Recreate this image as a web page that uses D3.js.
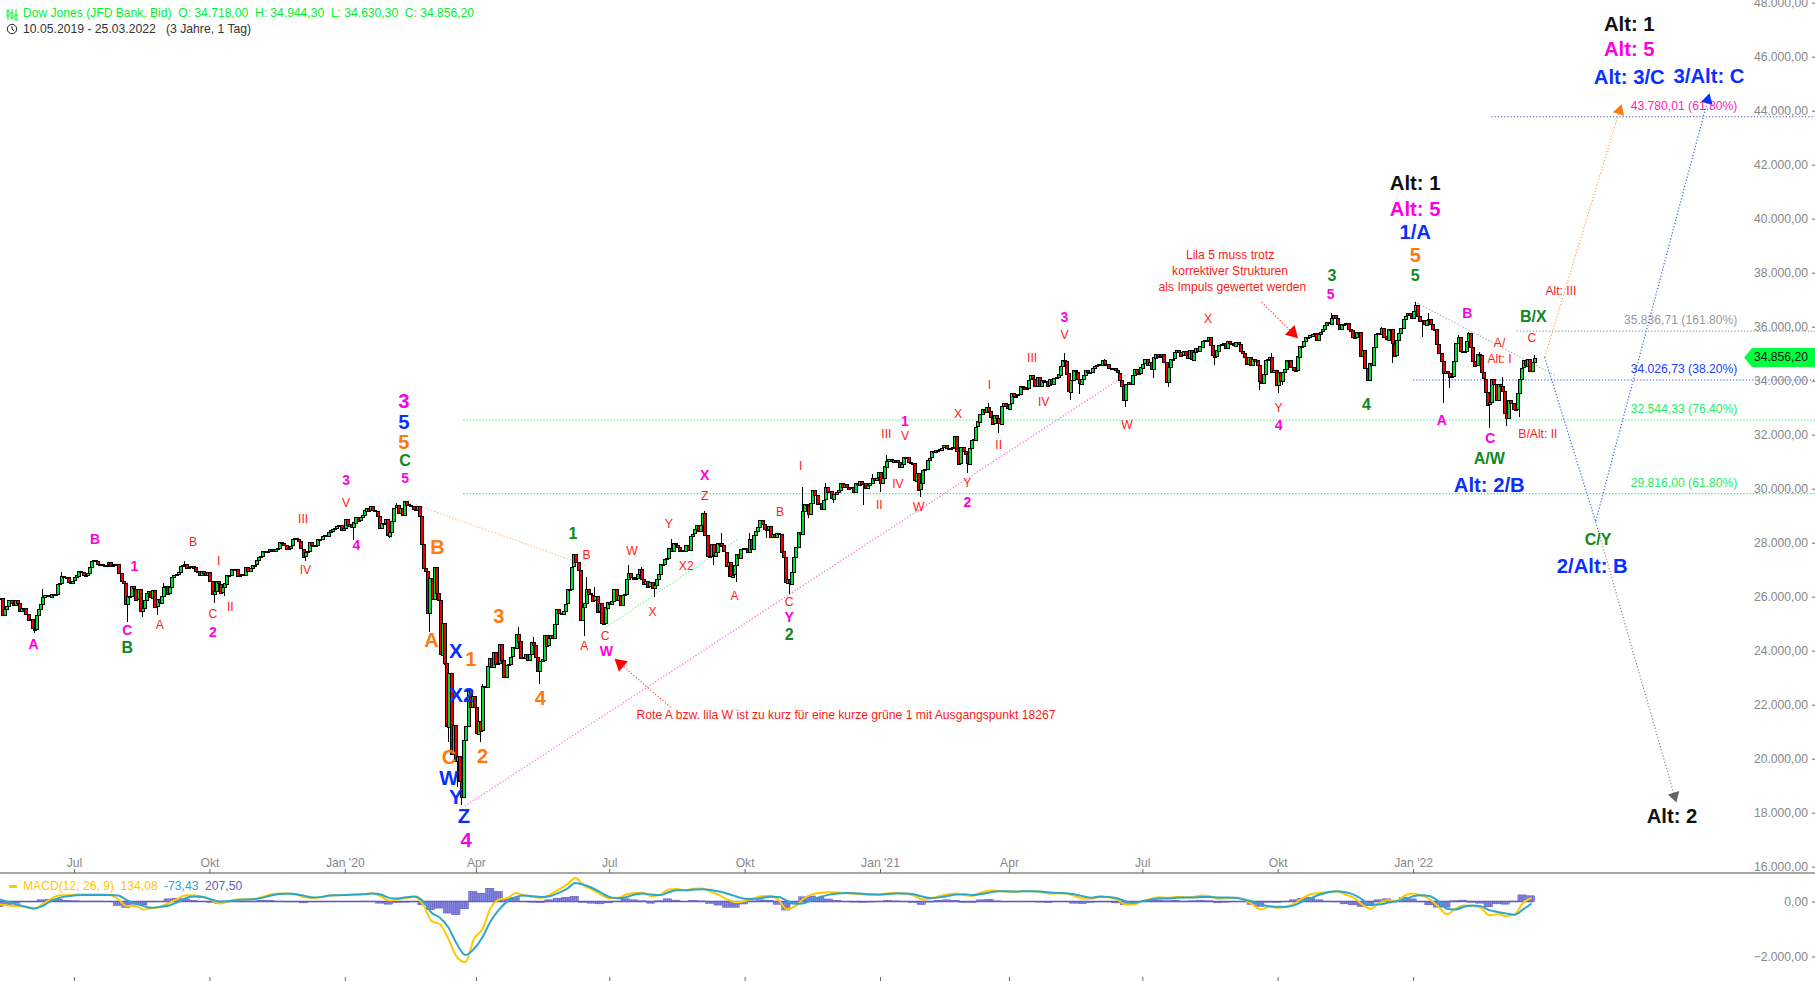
<!DOCTYPE html>
<meta charset="utf-8">

<style> /* set the CSS */
html, body { margin: 0; padding: 0; background: #fff; }
svg { display: block; font-family: "Liberation Sans", Arial, sans-serif; }
.axis text { fill: #888; font-size: 12.15px; font-family: "Liberation Sans", Arial, sans-serif; }
.axis line { stroke: #666; }
.axis path { display: none; }
.wick { stroke: #000; stroke-width: 1; shape-rendering: crispEdges; }
.body { stroke: #000; stroke-width: 1; shape-rendering: crispEdges; }
.dots { fill: none; stroke-width: 1.2; stroke-dasharray: 1.2 2; }
</style>
<body>

<script src="https://cdnjs.cloudflare.com/ajax/libs/d3/7.8.5/d3.min.js"></script>

<script>
// daily closes, one array per quarter
var closes2019Q2 = [25940,25320,25530,25650,25860,25760,25680,25880,25780,25490,25590,25590,25350,25130,25170,
  24820,24820,25330,25540,25720,25980,26060,26050,26000,26110,26090,26110,26470,26500,26750,26720,26730,26550,26540,26600];
var closes2019Q3 = [26720,26790,26970,26920,26810,26780,26860,27090,27330,27360,27340,27220,27220,27170,27150,27190,27270,27140,27190,27220,27200,26860,
  26580,26490,25720,26030,26010,26380,26290,25900,26280,25480,25580,25890,26140,26200,25960,26250,25630,25900,25780,26040,26360,26400,
  26120,26360,26730,26800,26840,26910,27140,27180,27220,27080,27110,27150,27090,26940,26950,26810,26970,26890,26820,26920];
var closes2019Q4 = [26570,26080,26200,26570,26480,26160,26350,26500,26820,26790,27020,27000,27030,26770,26790,26830,26810,27090,26960,27070,27190,27190,27350,
  27460,27490,27680,27680,27690,27780,27780,27690,27780,27820,28040,28000,27930,27770,27820,27880,28120,28160,28120,28050,
  27780,27500,27650,27680,28020,27910,27880,27910,28130,28140,28240,28270,28240,28380,28460,28520,28550,28620,28650,28460,28540];
var closes2020Q1 = [28870,28630,28700,28580,28750,28960,28820,28940,29030,29200,29300,29190,29350,29200,29160,28990,28540,28720,28730,28860,28260,
  28400,28810,29290,29380,29100,29280,29020,29550,29420,29400,29350,29230,29220,29350,28990,27960,27080,26960,25410,
  26700,25920,27090,26120,25860,23850,25020,23550,21200,23190,20190,21240,19900,20090,19170,18590,20700,21200,22550,21920,22330,21920];
var closes2020Q2 = [20940,21410,21050,22680,22650,23430,23720,23390,23950,23500,23540,24240,23650,23020,23480,23520,23780,24130,24100,24630,24350,
  23720,23750,23880,23660,23880,24330,24220,23770,23250,23630,23690,24600,24210,24480,24580,24470,25000,25550,25400,25380,
  25480,25740,26270,26280,27110,27570,27270,26990,25130,25610,25760,26290,26120,26080,25870,26030,25450,25750,25020,25020,25600,25810];
var closes2020Q3 = [25730,25830,26290,25890,26070,25710,26080,26090,26640,26870,26740,26670,26680,26840,27010,26650,26470,26590,26380,26540,26310,26430,
  26660,26830,27200,27200,27390,27430,27790,27690,27980,27930,27840,27690,27740,27690,27930,27740,28250,28330,28490,28650,28430,
  28650,29100,28290,27500,27500,27940,27540,27670,27990,28000,27900,27660,27150,27290,26760,26820,27170,27580,27450,27780,27820];
var closes2020Q4 = [27820,27680,28150,27770,28300,28430,28590,28840,28680,28510,28490,28610,28200,28310,28210,28360,28340,27690,27460,26520,26660,26500,
  26930,27480,27850,28390,28320,29160,29420,29400,29080,29480,29950,29780,29440,29480,29260,29590,30050,29870,29910,29640,
  29820,29880,29970,30220,30070,30170,30070,30000,30050,29860,30200,30150,30300,30180,30220,30020,30130,30200,30400,30340,30410,30610];
var closes2021Q1 = [30220,30390,30830,31040,31100,31010,31070,31060,30990,30810,30930,31190,31180,31000,30960,30940,30300,30600,29980,
  30210,30690,30720,31060,31150,31390,31380,31440,31430,31460,31520,31610,31490,31490,31520,31540,31960,31400,30930,
  31540,31390,31270,30920,31500,31800,31830,32300,32490,32780,32950,32830,33020,32860,32630,32420,32730,32620,32420,33070,33170,33070,32980];
var closes2021Q2 = [33150,33530,33430,33450,33500,33800,33750,33680,33730,34040,34200,34080,33820,34140,33820,34040,33980,33990,33820,34060,33880,
  34110,34130,34230,34550,34780,34740,34270,33590,34020,34380,34330,34060,33900,34080,34210,34390,34310,34320,34470,34530,
  34580,34600,34580,34760,34630,34600,34450,34470,34480,34390,34300,34030,33820,33290,33880,33950,33870,34200,34430,34280,34290,34500];
var closes2021Q3 = [34630,34790,34580,34680,34420,34870,35000,34890,34930,34990,34690,33960,34510,34800,34820,35060,35140,35060,34930,35090,34940,
  34840,35120,34790,35070,35210,35100,35270,35480,35500,35520,35630,35340,34960,34890,35120,35340,35370,35410,35210,35460,35400,35360,
  35310,35440,35370,35100,35030,34880,34610,34870,34580,34810,34750,34580,33970,33920,34260,34770,34800,34870,34300,34390,33840];
var closes2021Q4 = [34330,34000,34320,34420,34750,34750,34500,34380,34380,34910,35300,35260,35460,35610,35600,35680,35740,35760,35490,35730,35820,
  35910,36050,36160,36120,36330,36430,36320,36080,35920,36100,36090,36140,35930,35870,35600,35620,35810,35800,34900,35140,34480,
  34020,34640,34580,35230,35720,35750,35750,35970,35650,35540,35930,35900,35370,34930,35490,35750,35950,36300,36400,36490,36400,36340];
var closes2022Q1 = [36590,36800,36410,36240,36230,36070,36250,36290,36110,35910,35910,35370,35030,34720,34270,34360,34300,34170,34160,34730,
  35410,35630,35110,35090,35090,35460,35770,35240,34740,34570,34990,34940,34310,34080,33600,33130,33220,34060,33890,
  33300,33890,33800,33620,32820,32630,33290,33170,32950,32950,33550,34060,34480,34750,34550,34810,34360,34710,34856.2];

// the long wicks, [bar, price]
var wicks = [[16,24640],[20,26270],[29,26920],[60,25070],[67,25230],[74,25320],[77,26520],[87,27330],[101,25750],[106,26040],
  [144,27330],[167,28100],[184,28160],[187,29480],[203,24700],[208,25200],[209,25070],[210,23470],[212,20630],[214,20380],[216,18960],
  [218,18280],[220,20940],[227,20630],[228,22760],[245,24860],[252,24520],[255,22760],[276,24550],[277,26740],[281,26370],[297,27170],
  [303,27110],[309,26000],[317,28120],[333,29170],[337,27170],[341,28345],[344,26715],[348,26555],[354,28345],[362,28160],[368,28200],
  [373,26100],[379,30075],[382,28900],[390,30200],[394,29460],[408,29400],[412,30540],[416,29890],[419,31250],[435,29700],[457,30570],
  [467,33185],[472,32070],[503,35040],[506,33285],[510,33500],[522,34790],[532,33040],[545,34110],[552,33750],[571,35610],[574,34580],
  [595,33650],[601,35040],[604,33530],[606,33840],[629,36500],[646,33990],[653,35975],[658,34670],[669,36930],[672,35630],[675,36500],
  [682,33160],[685,33716],[689,35690],[694,35815],[699,35075],[704,32234],[710,34150],[712,32333],[718,32666],[725,34944]];

// MACD and signal, read every fourth bar
var macdLine = [-108,-144,-168,-192,-264,-108,96,216,228,252,252,252,252,240,72,-168,-168,-288,-240,-192,-48,96,228,216,168,48,-72,12,72,72,
  96,168,252,288,276,252,156,132,156,216,228,240,252,276,300,192,36,72,132,168,
  -108,-708,-828,-1368,-2028,-2208,-1368,-1008,-228,72,132,312,216,168,132,252,432,612,852,576,432,252,120,132,252,312,312,192,252,432,456,408,468,
  470,350,230,70,-30,10,110,190,210,60,-280,-170,110,260,320,340,330,310,280,250,240,260,300,310,280,220,70,110,190,260,290,230,210,330,400,390,360,350,380,370,340,290,300,290,200,110,110,
  168,156,72,-108,-108,12,96,156,132,168,156,168,216,192,96,120,132,72,-108,-288,-192,-228,-192,-72,132,276,312,348,360,252,132,-108,-264,-48,48,12,216,288,216,72,-192,-468,-264,-144,-168,-228,-504,-468,-528,-468,-48,134];
var signalLine = [72,-24,-108,-192,-252,-168,12,132,192,228,240,240,240,240,216,48,-72,-168,-228,-192,-144,-24,132,180,168,72,0,12,48,72,
  84,132,216,276,288,264,204,144,168,216,228,240,252,264,288,252,132,108,156,180,
  12,-408,-588,-948,-1548,-1944,-1728,-1308,-708,-288,12,168,216,192,168,192,312,456,672,612,492,336,168,120,156,252,288,252,228,336,408,408,432,
  450,420,360,280,180,100,90,130,170,160,30,-80,-60,60,170,250,290,310,300,280,260,250,270,290,290,260,180,130,150,200,250,260,240,270,330,370,370,360,370,370,360,330,310,300,260,190,140,
  180,168,120,12,-48,12,60,108,108,132,144,144,168,168,144,144,132,72,0,-108,-168,-192,-192,-132,12,132,252,336,372,336,252,72,-108,-108,-48,12,72,192,228,192,12,-264,-288,-192,-144,-168,-312,-384,-432,-480,-288,-73];

// tick labels
var timeTickBars = [35,99,163,225,288,352,416,477,540,604,668];
var timeTickLabels = ["Jul","Okt","Jan '20","Apr","Jul","Okt","Jan '21","Apr","Jul","Okt","Jan '22"];
var priceTicks = d3.range(16000, 48001, 2000);
var macdTicks = [0, -2000];

// fibonacci levels: [price, label, first bar of the line]
var fibGray = [35836.71, "35.836,71 (161.80%)", 717];
var fibBlue = [34026.73, "34.026,73 (38.20%)", 668];
var fibGreenA = [32544.33, "32.544,33 (76.40%)", 219];
var fibGreenB = [29816.00, "29.816,00 (61.80%)", 219];
var fibMagenta = [43780.01, "43.780,01 (61.80%)", 705];

// wave labels: [text, bar, price]
var redLabels = [["A",75.5,24951],["B",91.3,28038],["I",103.4,27352],["II",108.9,25637],["C",100.6,25380],["III",143.3,28895],["IV",144.4,27009],["V",163.6,29496],
  ["B",277.3,27566],["A",276.2,24180],["C",286.1,24565],["W",298.7,27695],["Y",316.2,28724],["X",308.5,25466],["X2",324.4,27138],["Z",333.1,29753],["A",347.3,26023],
  ["B",368.7,29153],["C",373.1,25809],["I",378.5,30867],["III",419,32025],["V",427.8,31982],["II",415.7,29410],["IV",424.5,30181],["W",434.3,29324],["Y",457.3,30224],
  ["X",452.9,32797],["I",467.7,33868],["II",472.1,31639],["III",487.9,34854],["IV",493.4,33225],["V",503.2,35712],["W",532.8,32368],["X",571.1,36312],["Y",604.4,33011],
  ["Alt: III",737.9,37341],["C",724.2,35583],["A/",708.9,35412],["Alt: I",708.9,34812],["B/Alt: II",727,32025],
  ["Lila 5 muss trotz",581.5,38670],["korrektiver Strukturen",581.5,38069],["als Impuls gewertet werden",582.6,37469]];
var magentaLabels = [["A",15.9,24265],["B",44.9,28124],["C",60.2,24780],["1",63.5,27138],["2",100.6,24694],["3",163.6,30310],["4",168.5,27909],["5",191.5,30396],
  ["W",286.6,24008],["X",333.1,30524],["Y",373.1,25251],["1",427.8,32497],["2",457.3,29496],["3",503.2,36355],["4",604.4,32368],["5",629,37212],["A",681.6,32539],["B",693.6,36526],["C",704.5,31896]];
var bigMagentaLabels = [["3",190.9,33268],["4",220.4,17020],["Alt: 5",669,40384],["Alt: 5",770.2,46301]];
var greenLabels = [["B",60.2,24137],["C",191.5,31039],["1",270.8,28338],["2",373.1,24608],["3",629.6,37898],["5",669,37898],["4",646,33139],["A/W",704,31124],["B/X",724.8,36398],["C/Y",755.4,28124]];
var orangeLabels = [["5",190.9,31725],["B",206.8,27867],["A",204,24394],["1",222.6,23708],["3",235.8,25294],["2",228.1,20107],["C",212.2,20064],["4",255.4,22250],["5",669,38670]];
var blueLabels = [["5",190.9,32497],["X",215.5,24008],["X2",218.3,22379],["W",212.2,19292],["Y",215.5,18606],["Z",219.3,17878],["1/A",669,39527],["Alt: 2/B",704,30139],
  ["2/Alt: B",752.7,27138],["Alt: 3/C",770.2,45272],["3/Alt: C",807.9,45315]];
var blackLabels = [["Alt: 1",669,41327],["Alt: 1",770.2,47244],["Alt: 2",790.4,17878]];
var noteLabels = [["Rote A bzw. lila W ist zu kurz für eine kurze grüne 1 mit Ausgangspunkt 18267",300.9,21650]];

// dotted paths: each point is [bar, price]
var peachLine = [[193.8,29480],[277.9,27137]];
var pinkLine = [[219.8,18248],[533,34248]];
var mintLine = [[286.4,24867],[349.4,28163]];
var grayLine = [[668.7,36926],[735.7,34174]];
var orangeArrow = [[730.2,34867],[765.6,44000]];
var blueArrow = [[730.2,34867],[754.3,28778],[807.3,44400]];
var grayArrow = [[754.3,28778],[791.6,18618]];
var redArrowA = [[317,21900],[293.3,23510]];
var redArrowB = [[596.4,36910],[611,35780]];

var lastClose = 34856.20;

var closes = [].concat(closes2019Q2, closes2019Q3, closes2019Q4, closes2020Q1, closes2020Q2, closes2020Q3,
  closes2020Q4, closes2021Q1, closes2021Q2, closes2021Q3, closes2021Q4, closes2022Q1);

var bars = closes.map(function(c, i) {
  return { i: i, open: i ? closes[i - 1] : c, close: c };
});

// set the ranges
var width = 1815, height = 981;
var x = d3.scaleLinear().domain([0, 858]).range([0, width]);
var y = d3.scaleLinear().domain([16000, 48000]).range([866.7, 2.7]);
var yMacd = d3.scaleLinear().domain([-2000, 0]).range([956.5, 901.5]);

var de = d3.formatLocale({ decimal: ",", thousands: ".", grouping: [3], currency: ["", ""] });
var fmt = de.format(",.2f");

var svg = d3.select("body").append("svg")
    .attr("width", width)
    .attr("height", height);

svg.append("rect").attr("width", width).attr("height", height).attr("fill", "#fff");

// header
svg.append("text").attr("x", 23).attr("y", 17).attr("fill", "#00ee33").style("font-size", "12.1px").attr("xml:space", "preserve")
    .text("Dow Jones (JFD Bank, Bid)  O: 34.718,00  H: 34.944,30  L: 34.630,30  C: 34.856,20");
svg.append("text").attr("x", 23).attr("y", 33).attr("fill", "#333").style("font-size", "12.2px").attr("xml:space", "preserve")
    .text("10.05.2019 - 25.03.2022   (3 Jahre, 1 Tag)");

// little candle icon and clock
var icon = svg.append("g").attr("stroke", "#00ee33").attr("fill", "none");
[8, 12, 16].forEach(function(ix, k) {
  icon.append("line").attr("x1", ix).attr("x2", ix).attr("y1", 9).attr("y2", 20);
  icon.append("rect").attr("x", ix - 1).attr("y", [11, 13, 15][k]).attr("width", 2).attr("height", 5).attr("fill", "#fff");
});
var clock = svg.append("g").attr("stroke", "#222").attr("fill", "none");
clock.append("circle").attr("cx", 12).attr("cy", 29).attr("r", 4.7);
clock.append("path").attr("d", "M12 26.3V29.3L14 30.5");

// fibonacci levels, under the candles
var fibs = [[fibGray, "#999", "#999"], [fibBlue, "#2040ff", "#2040ff"], [fibGreenA, "#22ee66", "#22ee66"], [fibGreenB, "#22ee66", "#22ee66"], [fibMagenta, "#ff22bb", "#6a7cc0"]];
fibs.forEach(function(f) {
  svg.append("line").attr("class", "dots")
      .attr("x1", x(f[0][2])).attr("x2", width)
      .attr("y1", y(f[0][0])).attr("y2", y(f[0][0]))
      .attr("stroke", f[2]);
  svg.append("text").attr("x", x(821.3)).attr("y", y(f[0][0]) - 10)
      .attr("text-anchor", "end").attr("dominant-baseline", "middle")
      .attr("fill", f[1]).style("font-size", "12.15px").text(f[0][1]);
});

// diagonal dotted lines
var line = d3.line().x(function(d) { return x(d[0]); }).y(function(d) { return y(d[1]); });
[[peachLine, "#ffb880"], [pinkLine, "#ff66dd"], [mintLine, "#66ff88"], [grayLine, "#aaa"],
 [orangeArrow, "#ffa060"], [blueArrow, "#4060ee"], [grayArrow, "#888"], [redArrowA, "#f44"], [redArrowB, "#f44"]].forEach(function(l) {
  svg.append("path").attr("class", "dots").attr("d", line(l[0])).attr("stroke", l[1]);
});

// arrow heads sit at the last point of a path
[[orangeArrow, "#ff7a10", 60], [blueArrow, "#0a30ff", 60], [grayArrow, "#666", 60], [redArrowA, "#f00", 80], [redArrowB, "#f00", 80]].forEach(function(a) {
  var p = a[0][a[0].length - 1], q = a[0][a[0].length - 2];
  var ang = Math.atan2(y(p[1]) - y(q[1]), x(p[0]) - x(q[0])) * 180 / Math.PI + 90;
  svg.append("path")
      .attr("d", d3.symbol().type(d3.symbolTriangle).size(a[2])())
      .attr("transform", "translate(" + x(p[0]) + "," + y(p[1]) + ") rotate(" + ang + ")")
      .attr("fill", a[1]);
});

// candles
svg.selectAll(".wick")
    .data(wicks)
  .enter().append("line")
    .attr("class", "wick")
    .attr("x1", function(d) { return Math.round(x(d[0])); })
    .attr("x2", function(d) { return Math.round(x(d[0])); })
    .attr("y1", function(d) { return y(d[1]); })
    .attr("y2", function(d) { return y(closes[d[0]]); });

svg.selectAll(".body")
    .data(bars)
  .enter().append("rect")
    .attr("class", "body")
    .attr("x", function(d) { return Math.round(x(d.i)) - 1; })
    .attr("width", 3)
    .attr("y", function(d) { return Math.round(y(Math.max(d.open, d.close))); })
    .attr("height", function(d) { return Math.max(1, Math.round(Math.abs(y(d.open) - y(d.close)))); })
    .attr("fill", function(d) { return d.close >= d.open ? "#00dd33" : "#ee0000"; });

// wave labels
function labels(list, color, size, weight, anchor) {
  svg.append("g").selectAll("text")
      .data(list)
    .enter().append("text")
      .attr("x", function(d) { return x(d[1]); })
      .attr("y", function(d) { return y(d[2]) + size * 0.1; })
      .attr("text-anchor", anchor || "middle")
      .attr("dominant-baseline", "middle")
      .attr("fill", color)
      .style("font-size", size + "px")
      .style("font-weight", weight)
      .text(function(d) { return d[0]; });
}
labels(redLabels, "#ff1a1a", 12.15, "normal");
labels(noteLabels, "#ff1a1a", 12.15, "normal", "start");
labels(magentaLabels, "#ff00dd", 14, "bold");
labels(bigMagentaLabels, "#ff00dd", 20.3, "bold");
labels(greenLabels, "#118822", 16, "bold");
labels(orangeLabels, "#ff7a10", 20, "bold");
labels(blueLabels, "#0a30ff", 20.3, "bold");
labels(blackLabels, "#111", 20.3, "bold");

// separator and time axes
svg.append("line").attr("x1", 0).attr("x2", width).attr("y1", 873).attr("y2", 873).attr("stroke", "#888").attr("stroke-width", 1.5);

svg.append("g").attr("class", "axis")
    .attr("transform", "translate(0,873)")
    .call(d3.axisTop(x).tickValues(timeTickBars).tickSize(4).tickPadding(2)
      .tickFormat(function(d, i) { return timeTickLabels[i]; }));

svg.append("g").attr("class", "axis")
    .attr("transform", "translate(0,981)")
    .call(d3.axisTop(x).tickValues(timeTickBars).tickSize(4).tickFormat(""));

// price axis
svg.append("g").attr("class", "axis")
    .attr("transform", "translate(" + width + ",0)")
    .call(d3.axisLeft(y).tickValues(priceTicks).tickSize(3).tickPadding(4).tickFormat(fmt));

svg.append("g").attr("class", "axis")
    .attr("transform", "translate(" + width + ",0)")
    .call(d3.axisLeft(yMacd).tickValues(macdTicks).tickSize(3).tickPadding(4).tickFormat(fmt));

// last price tag
var tagY = y(lastClose);
svg.append("path")
    .attr("d", d3.line()([[1744, tagY], [1752, tagY - 9.5], [width, tagY - 9.5], [width, tagY + 9.5], [1752, tagY + 9.5]]))
    .attr("fill", "#00ff3c");
svg.append("text").attr("x", 1808).attr("y", tagY).attr("text-anchor", "end").attr("dominant-baseline", "middle")
    .attr("fill", "#111").style("font-size", "12.15px").text(fmt(lastClose));

// MACD histogram, four thin bars per reading
var macdStep = 4;
var hist = [];
macdLine.forEach(function(m, k) {
  d3.range(macdStep).forEach(function(j) {
    hist.push({ bar: k * macdStep + j - 2, value: m - signalLine[k] });
  });
});

svg.append("line").attr("x1", 0).attr("x2", x(closes.length - 1))
    .attr("y1", yMacd(0)).attr("y2", yMacd(0)).attr("stroke", "#5a55b8").attr("stroke-width", 1.5);

svg.selectAll(".hist")
    .data(hist.filter(function(d) { return d.bar >= 0; }))
  .enter().append("rect")
    .attr("class", "hist")
    .attr("x", function(d) { return x(d.bar) - 1; })
    .attr("width", 2)
    .attr("y", function(d) { return Math.min(yMacd(0), yMacd(d.value)); })
    .attr("height", function(d) { return Math.abs(yMacd(d.value) - yMacd(0)); })
    .attr("fill", "#8888e6")
    .attr("stroke", "#5a55b8")
    .attr("stroke-width", 0.5);

var macdPath = d3.line()
    .x(function(d, k) { return x(k * macdStep); })
    .y(function(d) { return yMacd(d); })
    .curve(d3.curveMonotoneX);

svg.append("path").attr("d", macdPath(macdLine)).attr("fill", "none").attr("stroke", "#ffc800").attr("stroke-width", 2);
svg.append("path").attr("d", macdPath(signalLine)).attr("fill", "none").attr("stroke", "#2ea6c8").attr("stroke-width", 2);

// MACD legend
svg.append("rect").attr("x", 9).attr("y", 885).attr("width", 8).attr("height", 3).attr("fill", "#ffc800");
[["MACD(12, 26, 9)", 23, "#ffc800"], ["134,08", 120.5, "#ffc800"], ["-73,43", 164, "#2ea6c8"], ["207,50", 205, "#6660bb"]].forEach(function(t) {
  svg.append("text").attr("x", t[1]).attr("y", 886.5).attr("dominant-baseline", "middle")
      .attr("fill", t[2]).style("font-size", "12.15px").text(t[0]);
});
</script>
</body>
